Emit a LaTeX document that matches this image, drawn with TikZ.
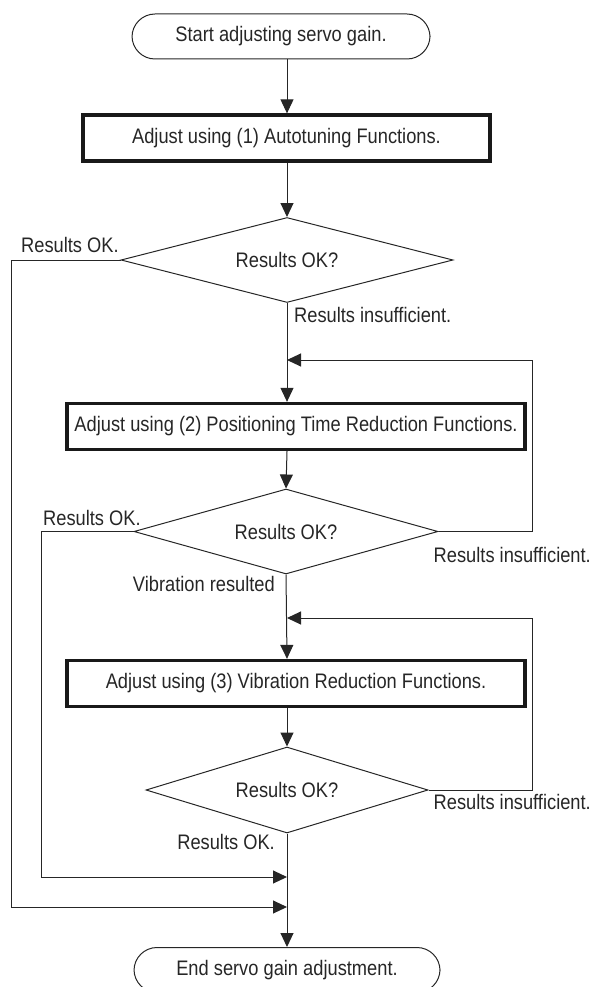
\documentclass[tikz,border=0pt]{standalone}
\usepackage{fontspec}
\setmainfont[FakeStretch=0.87]{Liberation Sans}
\usetikzlibrary{shapes.geometric,arrows.meta}
\begin{document}
\begin{tikzpicture}[x=1pt,y=-1pt,
  every node/.style={font=\fontsize{21}{24}\selectfont, text=black!85},
  line/.style={draw=black!85, line width=1pt},
  arr/.style={line, -{Triangle[length=14pt,width=13pt]}},
  term/.style={draw=black!85, line width=1pt, rounded corners=23pt, minimum height=45pt, inner sep=0pt},
  procbox/.style={draw=black!90, line width=3.3pt, minimum height=46pt, inner sep=0pt},
  decis/.style={draw=black!85, line width=1pt, diamond, aspect=3.9, inner sep=0pt},
  lbl/.style={inner sep=0pt}]
\useasboundingbox (0,0) rectangle (592,987);
\clip (0,0) rectangle (592,987);
\coordinate (ax) at (287,0);
\node[term, minimum width=298pt] (s) at (281,36.5) {Start adjusting servo gain.};
\node[procbox, minimum width=407pt] (b1) at (286.5,138) {Adjust using (1) Autotuning Functions.};
\node[decis, minimum width=332pt, minimum height=85pt] (d1) at (287,260) {Results OK?};
\node[procbox, minimum width=458pt] (b2) at (296,426.5) {Adjust using (2) Positioning Time Reduction Functions.};
\node[decis, minimum width=304pt, minimum height=85pt] (d2) at (286,531.5) {Results OK?};
\node[procbox, minimum width=458pt] (b3) at (296,683.5) {Adjust using (3) Vibration Reduction Functions.};
\node[decis, minimum width=282pt, minimum height=86pt] (d3) at (287,790) {Results OK?};
\node[term, minimum width=306pt] (e) at (287,970) {End servo gain adjustment.};
\coordinate (j1) at (287,360);
\coordinate (j2) at (287,618);
\coordinate (j3) at (287,877);
\coordinate (j4) at (287,907);
% main flow
\draw[arr] (s.south -| ax) -- (b1.north -| ax);
\draw[arr] (b1.south -| ax) -- (d1.north);
\draw[arr] (d1.south) -- (b2.north -| ax);
\draw[arr] (b2.south -| ax) -- (d2.north);
\draw[arr] (d2.south) -- (b3.north -| ax);
\draw[arr] (b3.south -| ax) -- (d3.north);
\draw[arr] (d3.south) -- (e.north);
% loops
\draw[arr] (d2.east) -- (532,531.5) |- (j1);
\draw[arr] (d3.east) -- (532,790) |- (j2);
% OK bypasses
\draw[arr] (d1.west) -- (11,260) |- (j4);
\draw[arr] (d2.west) -- (41,531.5) |- (j3);
% labels
\node[lbl, anchor=west] (l1) at (21,245) {Results OK.};
\node[lbl, anchor=west] (l2) at (294,315) {Results insufficient.};
\node[lbl, anchor=west] (l3) at (43,518) {Results OK.};
\node[lbl, anchor=east] (l4) at (591,555) {Results insufficient.};
\node[lbl, anchor=east] (l5) at (275,584) {Vibration resulted};
\node[lbl, anchor=east] (l6) at (591,802) {Results insufficient.};
\node[lbl, anchor=east] (l7) at (275,842) {Results OK.};
\end{tikzpicture}
\end{document}
